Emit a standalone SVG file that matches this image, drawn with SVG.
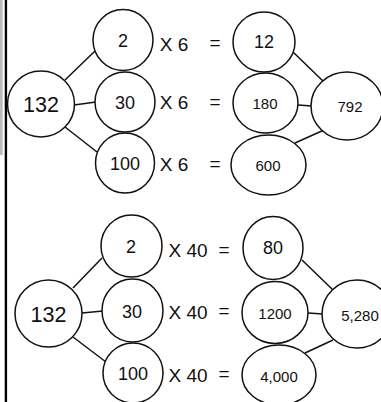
<svg xmlns="http://www.w3.org/2000/svg" width="381" height="402" viewBox="0 0 381 402">
<style>
.n ellipse{fill:#fff;stroke:#111;stroke-width:1.5}
.c line{stroke:#111;stroke-width:1.5}
text{font-family:"Liberation Sans",Arial,sans-serif;fill:#111;text-anchor:middle;dominant-baseline:central}
.big{font-size:21.5px}
.md{font-size:18px}
.sm{font-size:15px}
.op{font-size:19px}
</style>
<rect x="0" y="0" width="381" height="402" fill="#fff"/>
<rect x="0" y="0" width="2.7" height="155" fill="#bbb"/>
<rect x="4.7" y="0" width="2.4" height="402" fill="#000"/>
<g class="c" id="connectors">
<line x1="65" y1="80" x2="95" y2="51"/>
<line x1="74" y1="105" x2="96" y2="102"/>
<line x1="65" y1="127" x2="97" y2="152"/>
<line x1="293" y1="52" x2="324" y2="82"/>
<line x1="298" y1="105" x2="312" y2="106"/>
<line x1="295" y1="143" x2="324" y2="130"/>
<line x1="73" y1="288" x2="102" y2="258"/>
<line x1="82" y1="313" x2="103" y2="311"/>
<line x1="73" y1="337" x2="106" y2="362"/>
<line x1="302" y1="260" x2="333" y2="290"/>
<line x1="308" y1="313" x2="323" y2="314"/>
<line x1="305" y1="353" x2="333" y2="340"/>
</g>
<g class="n" id="t132"><ellipse cx="41" cy="104" rx="33.5" ry="33"/><text class="big" x="41" y="105">132</text></g>
<g class="n" id="t2"><ellipse cx="123" cy="40" rx="30" ry="30.5"/><text class="md" x="123" y="41">2</text></g>
<g class="n" id="t30"><ellipse cx="125" cy="102" rx="30" ry="30"/><text class="md" x="125" y="102.5">30</text></g>
<g class="n" id="t100"><ellipse cx="125" cy="163" rx="29.5" ry="30"/><text class="md" x="125" y="164">100</text></g>
<g id="tops">
<text class="op" x="174" y="44">X 6</text>
<text class="op" x="174" y="102.5">X 6</text>
<text class="op" x="174" y="164">X 6</text>
<text class="op" x="215" y="42">=</text>
<text class="op" x="215" y="101">=</text>
<text class="op" x="215" y="163">=</text>
</g>
<g class="n" id="t12"><ellipse cx="264" cy="42" rx="31" ry="30"/><text class="md" x="264" y="42">12</text></g>
<g class="n" id="t180"><ellipse cx="265.5" cy="103" rx="32.5" ry="30"/><text class="sm" x="265" y="103.5">180</text></g>
<g class="n" id="t600"><ellipse cx="268.5" cy="165" rx="37.5" ry="30"/><text class="sm" x="268" y="165.5">600</text></g>
<g class="n" id="t792"><ellipse cx="347" cy="106" rx="36" ry="34"/><text class="sm" x="350" y="106.5">792</text></g>

<g class="n" id="b132"><ellipse cx="48.5" cy="313.5" rx="33.5" ry="33.5"/><text class="big" x="48.5" y="315">132</text></g>
<g class="n" id="b2"><ellipse cx="131.5" cy="246" rx="30.5" ry="31"/><text class="md" x="131" y="247">2</text></g>
<g class="n" id="b30"><ellipse cx="132.5" cy="310.5" rx="30.5" ry="31.5"/><text class="md" x="132" y="311.5">30</text></g>
<g class="n" id="b100"><ellipse cx="133" cy="373" rx="30" ry="30"/><text class="md" x="133" y="374">100</text></g>
<g id="bops">
<text class="op" x="188" y="250">X 40</text>
<text class="op" x="188" y="312">X 40</text>
<text class="op" x="188" y="375">X 40</text>
<text class="op" x="224" y="249">=</text>
<text class="op" x="224" y="310">=</text>
<text class="op" x="224" y="373">=</text>
</g>
<g class="n" id="b80"><ellipse cx="273" cy="248" rx="30" ry="31.5"/><text class="md" x="273" y="248">80</text></g>
<g class="n" id="b1200"><ellipse cx="275" cy="312.5" rx="33" ry="31"/><text class="sm" x="275" y="313">1200</text></g>
<g class="n" id="b4000"><ellipse cx="279" cy="375" rx="37" ry="30"/><text class="sm" x="279" y="376">4,000</text></g>
<g class="n" id="b5280"><ellipse cx="357" cy="314" rx="35" ry="34"/><text class="sm" x="360" y="315">5,280</text></g>
</svg>
